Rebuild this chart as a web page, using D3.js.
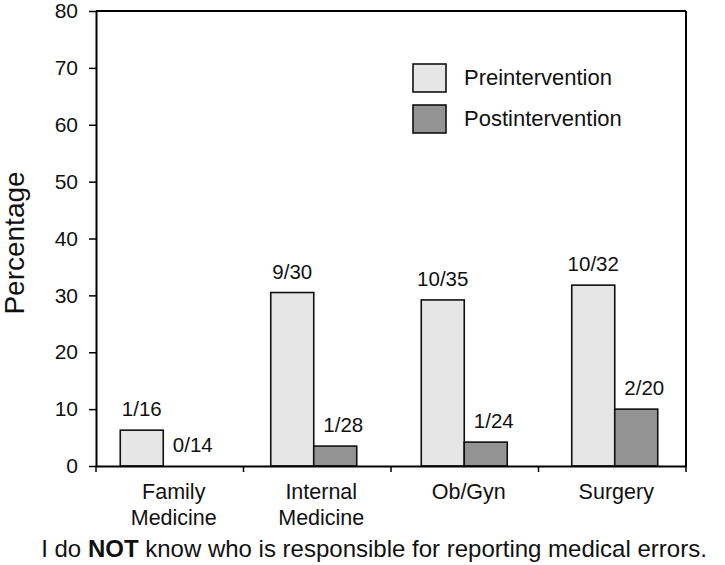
<!DOCTYPE html>
<html>
<head>
<meta charset="utf-8">
<script src="https://cdn.jsdelivr.net/npm/d3@7"></script>
<style>
  html, body { margin: 0; padding: 0; background: #fff; }
  svg { display: block; font-family: "Liberation Sans", Arial, Helvetica, sans-serif; }
</style>
</head>
<body>
<svg id="chart" width="725" height="565"></svg>
<script>
// ---- data ----
const categories = ["Family Medicine", "Internal Medicine", "Ob/Gyn", "Surgery"];
const categoryLines = [["Family", "Medicine"], ["Internal", "Medicine"], ["Ob/Gyn"], ["Surgery"]];
const seriesNames = ["Preintervention", "Postintervention"];
const preValues = [6.3, 30.5, 29.2, 31.8];
const postValues = [0, 3.5, 4.2, 10.0];
const preLabels = ["1/16", "9/30", "10/35", "10/32"];
const postLabels = ["0/14", "1/28", "1/24", "2/20"];
const yTicks = [0, 10, 20, 30, 40, 50, 60, 70, 80];
const titleParts = [["I do ", false], ["NOT", true], [" know who is responsible for reporting medical errors.", false]];

// ---- layout ----
const svg = d3.select("#chart");
const pL = 96, pR = 686, pT = 11, pB = 466;
const colors = ["#e6e6e6", "#939393"];

const y = d3.scaleLinear().domain([0, 80]).range([pB, pT]);
const x = d3.scaleBand().domain(categories).range([pL, pR]);
const xBars = d3.scaleBand().domain(categories).range([88, 690]);
const xSub = d3.scaleBand().domain(seriesNames).range([-43, 43]);

// frame
svg.append("line").attr("x1", pL).attr("x2", pR).attr("y1", pT).attr("y2", pT)
  .attr("stroke", "#000").attr("stroke-width", 2);
svg.append("line").attr("x1", pR).attr("x2", pR).attr("y1", pT).attr("y2", pB)
  .attr("stroke", "#000").attr("stroke-width", 2);

// bars
const rows = categories.map((c, i) => ({
  cat: c,
  vals: [
    { s: seriesNames[0], v: preValues[i], label: preLabels[i], dx: 0 },
    { s: seriesNames[1], v: postValues[i], label: postLabels[i], dx: 8 }
  ]
}));

const g = svg.append("g").selectAll("g").data(rows).join("g")
  .attr("transform", d => `translate(${xBars(d.cat) + xBars.bandwidth() / 2},0)`);

g.selectAll("rect").data(d => d.vals.filter(v => v.v > 0)).join("rect")
  .attr("x", d => xSub(d.s))
  .attr("width", xSub.bandwidth())
  .attr("y", d => y(d.v))
  .attr("height", d => y(0) - y(d.v))
  .attr("fill", d => colors[seriesNames.indexOf(d.s)])
  .attr("stroke", "#111").attr("stroke-width", 1.6);

g.selectAll("text").data(d => d.vals).join("text")
  .attr("x", d => xSub(d.s) + xSub.bandwidth() / 2 + d.dx)
  .attr("y", d => y(d.v) - 14)
  .attr("text-anchor", "middle")
  .attr("font-size", 20.5)
  .attr("fill", "#111")
  .text(d => d.label);

// y axis
const yAxis = svg.append("g").attr("transform", `translate(${pL},0)`)
  .call(d3.axisLeft(y).tickValues(yTicks).tickSize(7).tickPadding(11).tickSizeOuter(0));
yAxis.select(".domain").attr("stroke", "#000").attr("stroke-width", 2);
yAxis.selectAll(".tick line").attr("stroke", "#000").attr("stroke-width", 1.5);
yAxis.selectAll(".tick text").attr("font-size", 21).attr("fill", "#111")
  .attr("font-family", "Liberation Sans, Arial, sans-serif");

// x axis
const xAxis = svg.append("g").attr("transform", `translate(0,${pB})`)
  .call(d3.axisBottom(x).tickSize(0).tickSizeOuter(0).tickFormat(""));
xAxis.select(".domain").attr("stroke", "#000").attr("stroke-width", 2);
xAxis.selectAll(".tick").remove();
const bounds = categories.map(c => x(c)).concat([pR]);
xAxis.selectAll("line.b").data(bounds).join("line").attr("class", "b")
  .attr("x1", d => d).attr("x2", d => d).attr("y1", 0).attr("y2", 6)
  .attr("stroke", "#000").attr("stroke-width", 1.5);

// category labels
const cl = svg.append("g").selectAll("text").data(categories).join("text")
  .attr("x", d => x(d) + x.bandwidth() / 2 + 4)
  .attr("y", 499)
  .attr("text-anchor", "middle")
  .attr("font-size", 21.5)
  .attr("fill", "#111");
cl.selectAll("tspan").data((d, i) => categoryLines[i]).join("tspan")
  .attr("x", function() { return d3.select(this.parentNode).attr("x"); })
  .attr("dy", (d, i) => i === 0 ? 0 : 26)
  .text(d => d);

// y label
svg.append("text")
  .attr("transform", `translate(24,243) rotate(-90)`)
  .attr("text-anchor", "middle")
  .attr("font-size", 28)
  .attr("fill", "#111")
  .text("Percentage");

// legend
const lg = svg.append("g").selectAll("g").data(seriesNames).join("g")
  .attr("transform", (d, i) => `translate(413,${64 + i * 41})`);
lg.append("rect").attr("width", 33).attr("height", 28)
  .attr("fill", (d, i) => colors[i]).attr("stroke", "#111").attr("stroke-width", 1.6);
lg.append("text").attr("x", 51).attr("y", 21).attr("font-size", 22).attr("fill", "#111").text(d => d);

// title
const t = svg.append("text").attr("x", 374).attr("y", 557).attr("text-anchor", "middle")
  .attr("font-size", 24).attr("fill", "#111");
t.selectAll("tspan").data(titleParts).join("tspan")
  .attr("font-weight", d => d[1] ? "bold" : "normal")
  .text(d => d[0]);
</script>
</body>
</html>
